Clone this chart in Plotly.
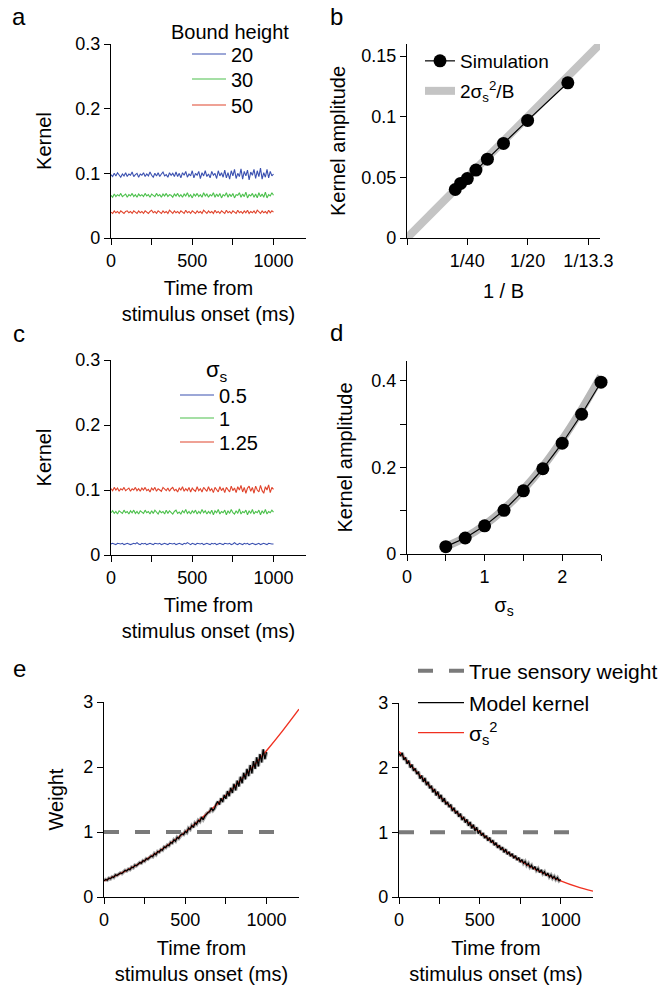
import plotly.graph_objects as go

W, H = 665, 985
FONT = "Liberation Sans, Arial, sans-serif"

# ---------------- data ----------------
time_ms = list(range(0, 1001, 10))

# panel a: kernels for three bound heights
kernel_B20 = [0.098, 0.095, 0.100, 0.096, 0.101, 0.097, 0.094, 0.099, 0.096, 0.101,
              0.095, 0.099, 0.097, 0.102, 0.095, 0.098, 0.100, 0.094, 0.099, 0.097,
              0.101, 0.095, 0.099, 0.096, 0.102, 0.097, 0.094, 0.100, 0.096, 0.101,
              0.095, 0.099, 0.102, 0.096, 0.098, 0.094, 0.101, 0.097, 0.100, 0.095,
              0.102, 0.095, 0.100, 0.093, 0.101, 0.097, 0.103, 0.094, 0.099, 0.096,
              0.104, 0.093, 0.100, 0.097, 0.103, 0.092, 0.101, 0.096, 0.104, 0.095,
              0.099, 0.093, 0.103, 0.097, 0.100, 0.092, 0.104, 0.096, 0.101, 0.094,
              0.105, 0.093, 0.101, 0.091, 0.104, 0.096, 0.106, 0.092, 0.100, 0.095,
              0.107, 0.091, 0.103, 0.096, 0.105, 0.090, 0.102, 0.097, 0.106, 0.092,
              0.104, 0.095, 0.108, 0.091, 0.101, 0.094, 0.106, 0.093, 0.103, 0.096,
              0.099]
kernel_B30 = [0.066, 0.063, 0.068, 0.064, 0.067, 0.065, 0.069, 0.064, 0.066, 0.068,
              0.063, 0.067, 0.065, 0.069, 0.064, 0.067, 0.063, 0.068, 0.065, 0.067,
              0.064, 0.069, 0.065, 0.067, 0.063, 0.068, 0.066, 0.064, 0.069, 0.065,
              0.067, 0.063, 0.068, 0.065, 0.069, 0.064, 0.067, 0.066, 0.063, 0.068,
              0.065, 0.069, 0.064, 0.067, 0.063, 0.068, 0.065, 0.070, 0.064, 0.067,
              0.062, 0.068, 0.065, 0.069, 0.064, 0.067, 0.063, 0.070, 0.065, 0.068,
              0.063, 0.067, 0.065, 0.070, 0.063, 0.068, 0.064, 0.069, 0.062, 0.067,
              0.065, 0.070, 0.063, 0.068, 0.064, 0.069, 0.062, 0.067, 0.066, 0.070,
              0.063, 0.068, 0.064, 0.071, 0.062, 0.067, 0.065, 0.069, 0.063, 0.068,
              0.062, 0.070, 0.064, 0.068, 0.063, 0.071, 0.062, 0.067, 0.065, 0.070,
              0.066]
kernel_B50 = [0.040, 0.038, 0.042, 0.039, 0.041, 0.038, 0.042, 0.040, 0.038, 0.041,
              0.042, 0.039, 0.041, 0.038, 0.042, 0.040, 0.038, 0.042, 0.039, 0.041,
              0.038, 0.042, 0.040, 0.038, 0.041, 0.043, 0.039, 0.041, 0.038, 0.042,
              0.040, 0.038, 0.042, 0.039, 0.041, 0.038, 0.043, 0.040, 0.038, 0.042,
              0.039, 0.041, 0.038, 0.042, 0.040, 0.038, 0.043, 0.039, 0.041, 0.038,
              0.042, 0.040, 0.038, 0.042, 0.039, 0.041, 0.038, 0.043, 0.040, 0.038,
              0.042, 0.039, 0.041, 0.038, 0.043, 0.039, 0.041, 0.038, 0.042, 0.040,
              0.038, 0.043, 0.039, 0.041, 0.038, 0.042, 0.040, 0.038, 0.043, 0.039,
              0.041, 0.038, 0.042, 0.039, 0.043, 0.038, 0.041, 0.039, 0.042, 0.038,
              0.043, 0.040, 0.038, 0.042, 0.039, 0.041, 0.038, 0.043, 0.039, 0.042,
              0.040]
bound_labels = ["20", "30", "50"]

# panel b: kernel amplitude vs 1/B
inv_B = [1 / 50, 1 / 45, 1 / 40, 1 / 35, 1 / 30, 1 / 25, 1 / 20, 1 / 15]
amp_sim_b = [0.040, 0.045, 0.049, 0.056, 0.065, 0.078, 0.097, 0.128]
theory_invB = [0.0, 0.08]
theory_amp_b = [0.0, 0.16]
b_tickvals = [0, 1 / 40, 1 / 20, 1 / 13.3]
b_ticktext = ["", "1/40", "1/20", "1/13.3"]

# panel c: kernels for three sensory noise levels
kernel_s05 = [0.017, 0.018, 0.017, 0.016, 0.018, 0.017, 0.017, 0.018, 0.016, 0.017,
              0.018, 0.017, 0.016, 0.017, 0.018, 0.017, 0.019, 0.017, 0.016, 0.018,
              0.017, 0.018, 0.016, 0.017, 0.018, 0.017, 0.016, 0.018, 0.017, 0.017,
              0.018, 0.016, 0.017, 0.018, 0.017, 0.016, 0.018, 0.017, 0.017, 0.018,
              0.016, 0.017, 0.018, 0.017, 0.016, 0.018, 0.017, 0.019, 0.017, 0.016,
              0.018, 0.017, 0.016, 0.018, 0.017, 0.017, 0.018, 0.016, 0.017, 0.018,
              0.017, 0.016, 0.018, 0.017, 0.018, 0.016, 0.017, 0.018, 0.017, 0.016,
              0.018, 0.017, 0.017, 0.018, 0.016, 0.017, 0.019, 0.017, 0.016, 0.018,
              0.017, 0.016, 0.018, 0.017, 0.018, 0.016, 0.017, 0.018, 0.017, 0.016,
              0.017, 0.018, 0.016, 0.017, 0.018, 0.017, 0.016, 0.018, 0.017, 0.017,
              0.017]
kernel_s1 = [0.065, 0.068, 0.064, 0.067, 0.063, 0.068, 0.066, 0.064, 0.069, 0.065,
             0.067, 0.063, 0.068, 0.065, 0.069, 0.064, 0.067, 0.063, 0.068, 0.066,
             0.064, 0.069, 0.065, 0.067, 0.063, 0.068, 0.064, 0.069, 0.066, 0.063,
             0.068, 0.065, 0.067, 0.063, 0.069, 0.064, 0.068, 0.065, 0.063, 0.067,
             0.069, 0.064, 0.066, 0.063, 0.068, 0.065, 0.070, 0.064, 0.067, 0.063,
             0.068, 0.065, 0.069, 0.063, 0.067, 0.064, 0.070, 0.065, 0.068, 0.063,
             0.067, 0.064, 0.069, 0.062, 0.068, 0.065, 0.070, 0.063, 0.067, 0.065,
             0.069, 0.062, 0.068, 0.064, 0.070, 0.065, 0.063, 0.068, 0.064, 0.071,
             0.063, 0.067, 0.065, 0.069, 0.062, 0.068, 0.064, 0.070, 0.063, 0.067,
             0.065, 0.069, 0.062, 0.068, 0.064, 0.070, 0.063, 0.067, 0.065, 0.069,
             0.066]
kernel_s125 = [0.102, 0.099, 0.104, 0.100, 0.103, 0.098, 0.102, 0.100, 0.104, 0.099,
               0.101, 0.103, 0.098, 0.102, 0.100, 0.104, 0.099, 0.102, 0.098, 0.103,
               0.100, 0.104, 0.099, 0.101, 0.097, 0.103, 0.100, 0.104, 0.098, 0.102,
               0.100, 0.098, 0.104, 0.101, 0.099, 0.103, 0.098, 0.102, 0.104, 0.099,
               0.101, 0.097, 0.103, 0.100, 0.105, 0.098, 0.102, 0.099, 0.104, 0.097,
               0.103, 0.100, 0.098, 0.105, 0.099, 0.102, 0.097, 0.104, 0.100, 0.098,
               0.105, 0.099, 0.102, 0.096, 0.104, 0.100, 0.097, 0.105, 0.099, 0.103,
               0.096, 0.104, 0.100, 0.097, 0.106, 0.099, 0.103, 0.096, 0.105, 0.100,
               0.107, 0.097, 0.104, 0.095, 0.103, 0.106, 0.098, 0.104, 0.095, 0.106,
               0.100, 0.097, 0.107, 0.099, 0.095, 0.105, 0.100, 0.108, 0.096, 0.104,
               0.101]
sigma_labels = ["0.5", "1", "1.25"]

# panel d: kernel amplitude vs sigma_s
sigma_s = [0.5, 0.75, 1.0, 1.25, 1.5, 1.75, 2.0, 2.25, 2.5]
amp_sim_d = [0.017, 0.037, 0.065, 0.101, 0.146, 0.197, 0.256, 0.323, 0.397]
amp_theory_d = [0.017, 0.038, 0.067, 0.104, 0.149, 0.202, 0.264, 0.334, 0.411]

# panel e: model kernels with time-varying sensory noise
model_kernel_inc = [0.25, 0.27, 0.26, 0.29, 0.28, 0.31, 0.30, 0.34, 0.33, 0.35,
                    0.37, 0.36, 0.39, 0.41, 0.40, 0.43, 0.42, 0.46, 0.45, 0.49,
                    0.48, 0.51, 0.53, 0.52, 0.56, 0.55, 0.59, 0.58, 0.61, 0.63,
                    0.62, 0.67, 0.65, 0.70, 0.69, 0.73, 0.72, 0.77, 0.76, 0.80,
                    0.79, 0.84, 0.83, 0.88, 0.86, 0.92, 0.90, 0.95, 0.97, 0.96,
                    1.01, 0.99, 1.06, 1.04, 1.10, 1.07, 1.14, 1.12, 1.18, 1.16,
                    1.23, 1.19, 1.24, 1.28, 1.30, 1.31, 1.37, 1.33, 1.36, 1.43,
                    1.47, 1.42, 1.52, 1.46, 1.57, 1.51, 1.63, 1.55, 1.68, 1.60,
                    1.74, 1.64, 1.79, 1.70, 1.85, 1.75, 1.91, 1.81, 1.97, 1.86,
                    2.03, 1.90, 2.09, 1.97, 2.15, 2.01, 2.20, 2.07, 2.27, 2.12,
                    2.23]
model_kernel_dec = [2.22, 2.18, 2.23, 2.12, 2.16, 2.06, 2.11, 2.00, 2.05, 1.95,
                    1.99, 1.90, 1.94, 1.83, 1.88, 1.78, 1.84, 1.73, 1.78, 1.68,
                    1.72, 1.62, 1.67, 1.57, 1.63, 1.52, 1.58, 1.47, 1.53, 1.43,
                    1.47, 1.39, 1.43, 1.33, 1.38, 1.29, 1.33, 1.24, 1.29, 1.19,
                    1.24, 1.15, 1.20, 1.10, 1.16, 1.06, 1.12, 1.02, 1.08, 0.98,
                    1.03, 0.95, 0.99, 0.91, 0.95, 0.87, 0.92, 0.84, 0.88, 0.80,
                    0.84, 0.76, 0.80, 0.73, 0.77, 0.69, 0.74, 0.66, 0.70, 0.63,
                    0.67, 0.60, 0.64, 0.57, 0.61, 0.54, 0.58, 0.52, 0.55, 0.49,
                    0.52, 0.46, 0.49, 0.43, 0.47, 0.41, 0.44, 0.38, 0.42, 0.36,
                    0.39, 0.33, 0.37, 0.31, 0.34, 0.29, 0.32, 0.27, 0.30, 0.25,
                    0.27]
sigma2_t = [0, 100, 200, 300, 400, 500, 600, 700, 800, 900, 1000, 1100, 1200]
sigma2_inc = [0.25, 0.36, 0.49, 0.64, 0.81, 1.00, 1.21, 1.44, 1.69, 1.96, 2.25, 2.56, 2.89]
sigma2_dec = [2.25, 1.96, 1.69, 1.44, 1.21, 1.00, 0.81, 0.64, 0.49, 0.36, 0.25, 0.16, 0.09]
true_w_t = [0, 1100]
true_w = [1, 1]

time_ticks = [0, 250, 500, 750, 1000]
time_ticktext = ["0", "", "500", "", "1000"]

# ---------------- styles ----------------
BLUE, GREEN, RED = "#3a50b0", "#4cc04c", "#e0442c"
GREY_TH = "#c4c4c4"
DASH_GREY = "#7a7a7a"


def px_x(p):
    return p / W


def px_y(p):
    return 1 - p / H


fig = go.Figure()

# panel a
for vals, col, lab, lg in zip([kernel_B20, kernel_B30, kernel_B50], [BLUE, GREEN, RED],
                              bound_labels, ["legend", "legend2", "legend3"]):
    fig.add_trace(go.Scatter(x=time_ms, y=vals, mode="lines", name=lab,
                             line=dict(color=col, width=1.1), xaxis="x", yaxis="y",
                             legend=lg))

# panel b
fig.add_trace(go.Scatter(x=theory_invB, y=theory_amp_b, mode="lines",
                         name="2σ<sub>s</sub><sup>2</sup>/B",
                         line=dict(color=GREY_TH, width=8), xaxis="x2", yaxis="y2",
                         legend="legend5"))
fig.add_trace(go.Scatter(x=inv_B, y=amp_sim_b, mode="lines+markers", name="Simulation",
                         line=dict(color="black", width=1.2),
                         marker=dict(color="black", size=13), xaxis="x2", yaxis="y2",
                         legend="legend4", cliponaxis=False))

# panel c
for vals, col, lab, lg in zip([kernel_s05, kernel_s1, kernel_s125], [BLUE, GREEN, RED],
                              sigma_labels, ["legend6", "legend7", "legend8"]):
    fig.add_trace(go.Scatter(x=time_ms, y=vals, mode="lines", name=lab,
                             line=dict(color=col, width=1.1), xaxis="x3", yaxis="y3",
                             legend=lg))

# panel d
fig.add_trace(go.Scatter(x=sigma_s, y=amp_theory_d, mode="lines", showlegend=False,
                         line=dict(color="#b8b8b8", width=8, shape="spline"),
                         xaxis="x4", yaxis="y4"))
fig.add_trace(go.Scatter(x=sigma_s, y=amp_sim_d, mode="lines+markers", showlegend=False,
                         line=dict(color="black", width=1.2),
                         marker=dict(color="black", size=13), xaxis="x4", yaxis="y4",
                         cliponaxis=False))

# panel e (left and right)
for i, (kern, sig2) in enumerate([(model_kernel_inc, sigma2_inc), (model_kernel_dec, sigma2_dec)]):
    xa, ya = ("x5", "y5") if i == 0 else ("x6", "y6")
    first = i == 0
    fig.add_trace(go.Scatter(x=true_w_t, y=true_w, mode="lines", name="True sensory weight",
                             line=dict(color=DASH_GREY, width=4, dash="15px,16px"),
                             xaxis=xa, yaxis=ya, showlegend=first, legend="legend9"))
    fig.add_trace(go.Scatter(x=time_ms, y=kern, mode="lines", showlegend=False,
                             line=dict(color="#a8a8a8", width=3.5), xaxis=xa, yaxis=ya))
    fig.add_trace(go.Scatter(x=sigma2_t, y=sig2, mode="lines",
                             name="σ<sub>s</sub><sup>2</sup>",
                             line=dict(color="#f03020", width=1.4, shape="spline"),
                             xaxis=xa, yaxis=ya, showlegend=first, legend="legend11"))
    fig.add_trace(go.Scatter(x=time_ms, y=kern, mode="lines", name="Model kernel",
                             line=dict(color="black", width=1.3),
                             xaxis=xa, yaxis=ya, showlegend=first, legend="legend10"))

# ---------------- axes ----------------
base_ax = dict(showline=True, linecolor="black", linewidth=1.2, ticks="outside",
               ticklen=6, tickwidth=1.2, tickcolor="black", showgrid=False,
               zeroline=False, tickfont=dict(size=18, color="black", family=FONT),
               fixedrange=True, automargin=False)
title_font = dict(size=20, color="black", family=FONT)
time_title = "Time from<br>stimulus onset (ms)"


def xax(dom, anchor, rng, tv, tt, title, standoff):
    d = dict(base_ax)
    d.update(domain=[px_x(dom[0]), px_x(dom[1])], anchor=anchor, range=rng,
             tickvals=tv, ticktext=tt,
             title=dict(text=title, font=title_font, standoff=standoff))
    return d


def yax(dom, anchor, rng, tv, tt, title, standoff):
    d = dict(base_ax)
    d.update(domain=[px_y(dom[1]), px_y(dom[0])], anchor=anchor, range=rng,
             tickvals=tv, ticktext=tt,
             title=dict(text=title, font=title_font, standoff=standoff))
    return d


layout_axes = dict(
    xaxis=xax([111, 306], "y", [0, 1200], time_ticks, time_ticktext, time_title, 11),
    yaxis=yax([44, 238], "x", [0, 0.3], [0, 0.1, 0.2, 0.3], ["0", "0.1", "0.2", "0.3"],
              "Kernel", 18),
    xaxis2=xax([407, 600], "y2", [0, 0.08], b_tickvals, b_ticktext, "1 / B", 14),
    yaxis2=yax([44, 238], "x2", [0, 0.16], [0, 0.05, 0.1, 0.15], ["0", "0.05", "0.1", "0.15"],
               "Kernel amplitude", 10),
    xaxis3=xax([111, 306], "y3", [0, 1200], time_ticks, time_ticktext, time_title, 11),
    yaxis3=yax([360, 555], "x3", [0, 0.3], [0, 0.1, 0.2, 0.3], ["0", "0.1", "0.2", "0.3"],
               "Kernel", 18),
    xaxis4=xax([407, 601], "y4", [0, 2.5], [0, 0.5, 1, 1.5, 2, 2.5], ["0", "", "1", "", "2", ""],
               "σ<sub>s</sub>", 12),
    yaxis4=yax([361, 554], "x4", [0, 0.446], [0, 0.1, 0.2, 0.3, 0.4], ["0", "", "0.2", "", "0.4"],
               "Kernel amplitude", 13),
    xaxis5=xax([104, 299], "y5", [0, 1200], time_ticks, time_ticktext, time_title, 12),
    yaxis5=yax([702, 897], "x5", [0, 3], [0, 1, 2, 3], ["0", "1", "2", "3"], "Weight", 14),
    xaxis6=xax([399, 593], "y6", [0, 1200], time_ticks, time_ticktext, time_title, 12),
    yaxis6=yax([703, 897], "x6", [0, 3], [0, 1, 2, 3], ["0", "1", "2", "3"], "", 10),
)


def leg(x, y, size, itemwidth):
    return dict(bgcolor="rgba(0,0,0,0)", borderwidth=0, xanchor="left", yanchor="middle",
                x=px_x(x), y=px_y(y), itemwidth=itemwidth,
                font=dict(size=size, color="black", family=FONT),
                itemclick=False, itemdoubleclick=False)


legends = dict(
    legend=leg(187, 54, 20, 34),
    legend2=leg(187, 79, 20, 34),
    legend3=leg(187, 105, 20, 34),
    legend4=leg(420, 61, 19, 30),
    legend5=leg(420, 91, 19, 30),
    legend6=leg(175, 395, 20, 34),
    legend7=leg(175, 418, 20, 34),
    legend8=leg(175, 442, 20, 34),
    legend9=leg(413, 671, 21, 46),
    legend10=leg(413, 703, 21, 46),
    legend11=leg(413, 733, 21, 46),
)

annotations = []
for txt, x, y in [("a", 19, 17), ("b", 336, 17), ("c", 19, 333), ("d", 336, 332), ("e", 19, 668)]:
    annotations.append(dict(text=txt, x=px_x(x), y=px_y(y), xref="paper", yref="paper",
                            showarrow=False, xanchor="center", yanchor="middle",
                            font=dict(size=24, color="black", family=FONT)))
annotations.append(dict(text="Bound height", x=px_x(230), y=px_y(32), xref="paper", yref="paper",
                        showarrow=False, xanchor="center", yanchor="middle",
                        font=dict(size=20, color="black", family=FONT)))
annotations.append(dict(text="σ<sub>s</sub>", x=px_x(217), y=px_y(371), xref="paper", yref="paper",
                        showarrow=False, xanchor="center", yanchor="middle",
                        font=dict(size=22, color="black", family=FONT)))

fig.update_layout(
    width=W, height=H, margin=dict(l=0, r=0, t=0, b=0),
    paper_bgcolor="white", plot_bgcolor="white",
    font=dict(family=FONT, color="black"),
    annotations=annotations,
    **legends,
    **layout_axes,
)

fig.write_html("out.html", config={"displayModeBar": False, "staticPlot": False},
               post_script="document.body.style.margin='0px';")
